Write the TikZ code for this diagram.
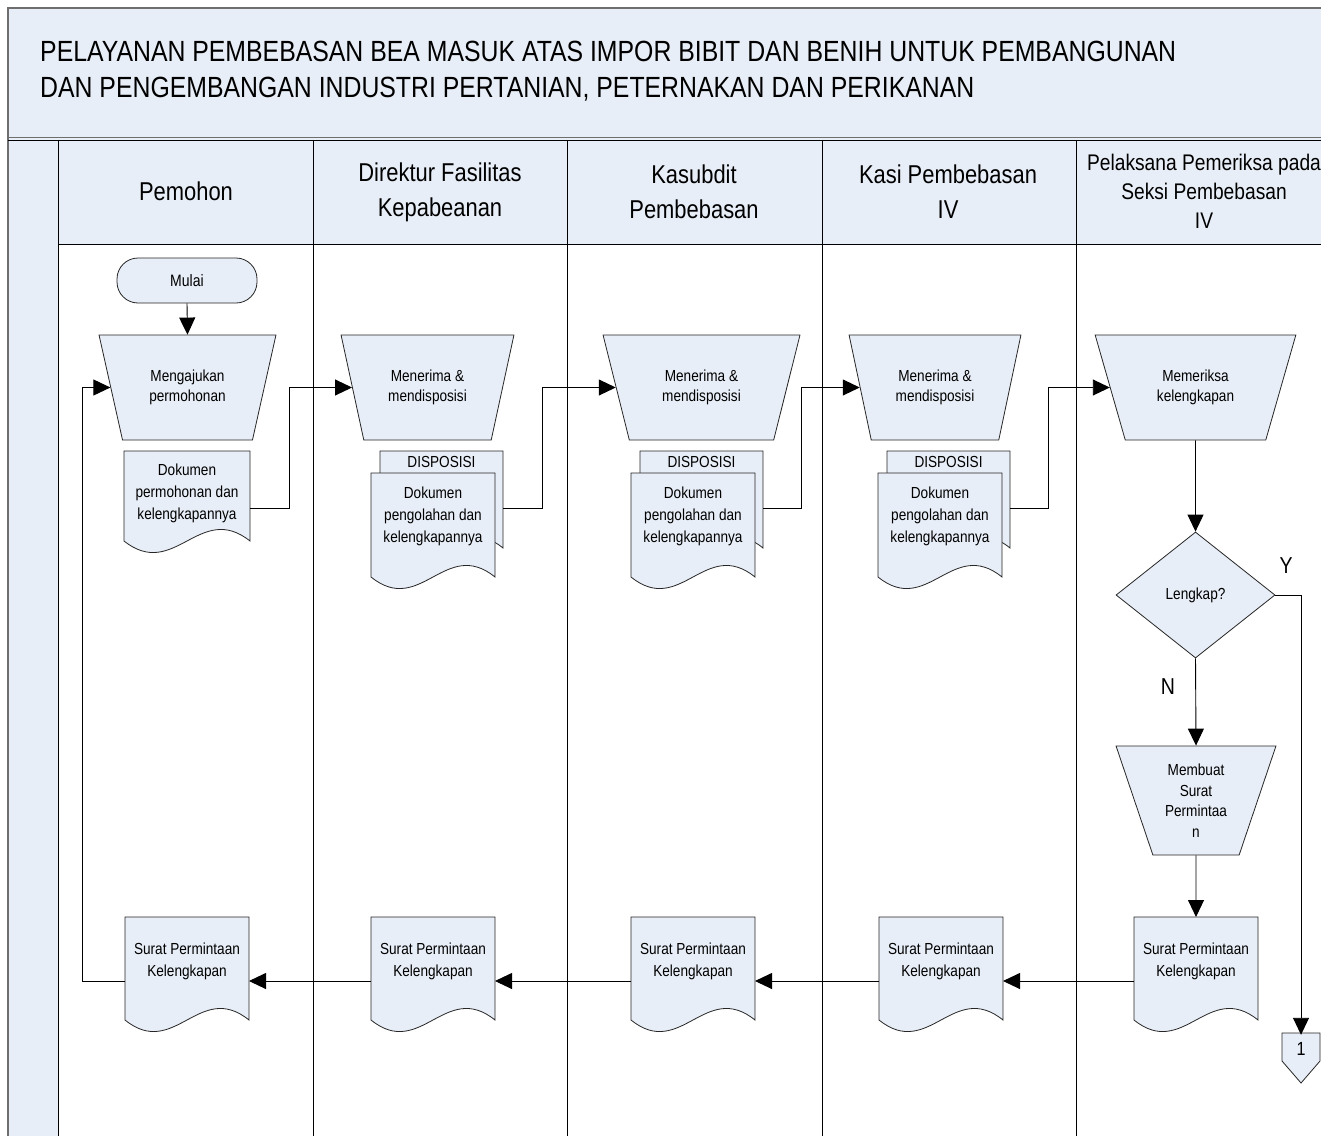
\documentclass[tikz,border=0pt]{standalone}
\usepackage{fontspec}
\setmainfont{Liberation Sans}[FakeStretch=0.85]
\usetikzlibrary{shapes.geometric,arrows.meta,calc}
\definecolor{bandfill}{RGB}{232,238,247}
\definecolor{shapefill}{RGB}{232,238,247}
\definecolor{framegray}{RGB}{110,110,110}
\tikzset{
  shp/.style={draw=black!85, fill=shapefill, line width=0.8pt},
  small/.style={font=\fontsize{16}{20.5}\selectfont, align=center, inner sep=0pt},
  manop/.style={shp, trapezium, shape border rotate=180, trapezium stretches=true,
    inner sep=0pt, align=center, font=\fontsize{16}{20.5}\selectfont},
  arr/.style={line width=0.9pt, -{Triangle[length=17pt,width=16pt]}},
  lanehead/.style={font=\fontsize{25.8}{35}\selectfont, align=center, inner sep=0pt},
  titlef/.style={font=\fontsize{29.2}{36}\selectfont, inner sep=0pt},
  lbl/.style={font=\fontsize{23}{23}\selectfont, inner sep=0pt},
  lanerule/.style={line width=1pt, draw=black},
}
% name, x, y, w, side height, connector offset, text offset, text
\newcommand\docshape[8]{%
  \draw[shp] (#2,#3) -- (#2+#4,#3) -- (#2+#4,#3+#5)
     .. controls (#2+0.6*#4,#3+#5-40) and (#2+0.4*#4,#3+#5+40) .. (#2,#3+#5) -- cycle;
  \node[small, font=\fontsize{16}{22}\selectfont] (#1) at (#2+0.5*#4,#3+#7) {#8};
  \coordinate (#1-E) at (#2+#4,#3+#6);
  \coordinate (#1-W) at (#2,#3+#6);
  \coordinate (#1-N) at (#2+0.5*#4,#3);
}
\begin{document}
\begin{tikzpicture}[x=1pt,y=-1pt]
\useasboundingbox (0,0) rectangle (1321,1135);
\clip (0,0) rectangle (1321,1135);
\fill[white] (0,0) rectangle (1321,1135);
% frame
\fill[bandfill] (8,8) rectangle (1340,1145);
\fill[white] (58,244) rectangle (1340,1145);
\draw[framegray, line width=1.6pt] (8,1145) -- (8,8) -- (1340,8);
\draw[framegray, line width=1pt] (8,137) -- (1340,137);
\draw[lanerule] (8,140) -- (1340,140);
\draw[lanerule] (58,140) -- (58,1145);
\draw[lanerule] (58,244) -- (1340,244);
\foreach \lx in {313,567,822,1076} { \draw[lanerule] (\lx,140) -- (\lx,1145); }
% title
\node[titlef, anchor=base west] (title1) at (40,61) {PELAYANAN PEMBEBASAN BEA MASUK ATAS IMPOR BIBIT DAN BENIH UNTUK PEMBANGUNAN};
\node[titlef, anchor=base west] (title2) at (40,97.5) {DAN PENGEMBANGAN INDUSTRI PERTANIAN, PETERNAKAN DAN PERIKANAN};
% lane headers
\node[lanehead] (h1) at (186,191) {Pemohon};
\node[lanehead] (h2) at (440,192) {Direktur Fasilitas\\Kepabeanan};
\node[lanehead] (h3) at (694,192) {Kasubdit\\Pembebasan};
\node[lanehead] (h4) at (948,192) {Kasi Pembebasan\\IV};
\node[lanehead, font=\fontsize{22.6}{29}\selectfont] (h5) at (1204,191) {Pelaksana Pemeriksa pada\\Seksi Pembebasan\\IV};
% start
\node[shp, rounded corners=21pt, minimum width=140, minimum height=45, font=\fontsize{16.5}{20}\selectfont] (start) at (187,280.5) {Mulai};
% manual operations
\node[manop, minimum width=177, minimum height=105, trapezium angle=68.7] (t1) at (187.5,387.5) {Mengajukan\\permohonan};
\node[manop, minimum width=173, minimum height=105, trapezium angle=68.4] (t2) at (427.5,387.5) {Menerima \&\\mendisposisi};
\node[manop, minimum width=197, minimum height=105, trapezium angle=68.0] (t3) at (701.5,387.5) {Menerima \&\\mendisposisi};
\node[manop, minimum width=172, minimum height=105, trapezium angle=68.9] (t4) at (935,387.5) {Menerima \&\\mendisposisi};
\node[manop, minimum width=201, minimum height=105, trapezium angle=65.0] (t5) at (1195.5,387.5) {Memeriksa\\kelengkapan};
\node[manop, minimum width=160, minimum height=109, trapezium angle=70.1] (t6) at (1196,800.5) {Membuat\\Surat\\Permintaa\\n};
% documents row 1
\docshape{d1}{124}{451}{126}{90}{57}{42}{Dokumen\\permohonan dan\\kelengkapannya}
\docshape{b2}{380}{451}{123}{97}{57}{11}{DISPOSISI}
\docshape{d2}{371}{473}{124}{104}{35}{43}{Dokumen\\pengolahan dan\\kelengkapannya}
\docshape{b3}{640}{451}{123}{97}{57}{11}{DISPOSISI}
\docshape{d3}{631}{473}{124}{104}{35}{43}{Dokumen\\pengolahan dan\\kelengkapannya}
\docshape{b4}{887}{451}{123}{97}{57}{11}{DISPOSISI}
\docshape{d4}{878}{473}{124}{104}{35}{43}{Dokumen\\pengolahan dan\\kelengkapannya}
% decision
\node[shp, diamond, minimum width=159, minimum height=126, inner sep=0pt, font=\fontsize{16}{20}\selectfont] (dia) at (1195.5,595) {Lengkap?};
\node[lbl] (ylab) at (1286,566) {Y};
\node[lbl] (nlab) at (1168,687) {N};
% bottom documents
\docshape{e1}{125}{917}{124}{103}{64}{44.5}{Surat Permintaan\\Kelengkapan}
\docshape{e2}{371}{917}{124}{103}{64}{44.5}{Surat Permintaan\\Kelengkapan}
\docshape{e3}{631}{917}{124}{103}{64}{44.5}{Surat Permintaan\\Kelengkapan}
\docshape{e4}{879}{917}{124}{103}{64}{44.5}{Surat Permintaan\\Kelengkapan}
\docshape{e5}{1134}{917}{124}{103}{64}{44.5}{Surat Permintaan\\Kelengkapan}
% off-page connector
\draw[shp] (1282,1033) -- (1320,1033) -- (1320,1061) -- (1301,1083) -- (1282,1061) -- cycle;
\node[small, font=\fontsize{19}{20}\selectfont, minimum width=38, minimum height=28] (off) at (1301,1049) {1};
% connectors
\draw[arr] (start.south) -- (t1.north);
\draw[arr] (d1-E) -- ++(39,0) |- (t2.west);
\draw[arr] (b2-E) -- ++(39,0) |- (t3.west);
\draw[arr] (b3-E) -- ++(38,0) |- (t4.west);
\draw[arr] (b4-E) -- ++(38,0) |- (t5.west);
\draw[arr] (t5.south) -- (dia.north);
\draw[arr] (dia.south) -- (t6.north);
\draw[arr] (t6.south) -- (e5-N);
\draw[arr] (dia.east) -| (off.north);
\draw[arr] (e5-W) -- (e4-E);
\draw[arr] (e4-W) -- (e3-E);
\draw[arr] (e3-W) -- (e2-E);
\draw[arr] (e2-W) -- (e1-E);
\draw[arr] (e1-W) -- ++(-43,0) |- (t1.west);
\end{tikzpicture}
\end{document}
